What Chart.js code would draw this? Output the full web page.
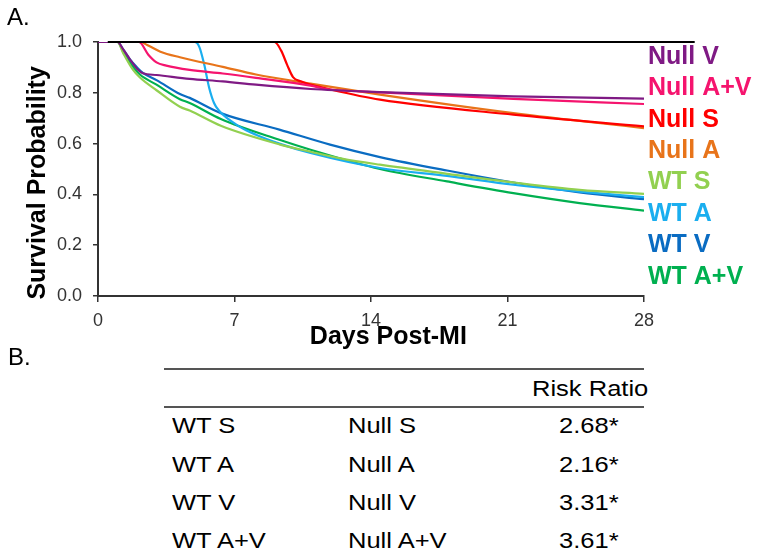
<!DOCTYPE html>
<html><head><meta charset="utf-8">
<script src="https://cdn.jsdelivr.net/npm/chart.js@4/dist/chart.umd.min.js"></script>
<style>
html,body{margin:0;padding:0;background:#fff;}
body{width:762px;height:560px;position:relative;overflow:hidden;font-family:"Liberation Sans",Arial,sans-serif;color:#000;}
#wrap{position:absolute;left:0;top:0;width:762px;height:360px;}
.t{position:absolute;white-space:nowrap;line-height:1;}
.s{transform:scaleX(1.16);transform-origin:0 0;}
.hr{position:absolute;height:2px;background:#555;}
</style></head><body>
<div id="wrap"><canvas id="c" width="762" height="360"></canvas></div>
<div class="t" style="left:7px;top:5px;font-size:24px">A.</div>
<div class="t" style="left:8px;top:345px;font-size:24px">B.</div>
<div id="table"></div>
<script>
// ---- data (Kaplan-Meier curves, [day, survival]) ----
const seriesNames = ['Null V','Null A+V','Null S','Null A','WT S','WT A','WT V','WT A+V'];
const seriesColors = ['#7F1A84','#F5146E','#FF0000','#E8741A','#92D050','#1AAEEF','#0A6CC2','#00B050'];
const nullV  = [[0,1],[1,1],[1.3,0.97],[1.65,0.93],[2,0.895],[2.3,0.877],[3,0.87],[4.7,0.855],[6.4,0.845],[8.1,0.832],[10.9,0.815],[14.46,0.803],[21.3,0.786],[28,0.777]];
const nullAV = [[0,1],[2.1,1],[2.58,0.95],[3,0.92],[3.5,0.907],[4.7,0.89],[6.4,0.876],[8.1,0.859],[10.9,0.828],[11.7,0.815],[14.46,0.802],[21.3,0.776],[28,0.756]];
const nullS  = [[0,1],[9.05,1],[9.4,0.965],[9.7,0.91],[10.0,0.862],[10.4,0.845],[10.9,0.832],[11.9,0.813],[14.46,0.773],[21.3,0.714],[28,0.668]];
const nullA  = [[0,1],[2.15,1],[2.6,0.985],[3.2,0.962],[4.2,0.94],[6.4,0.902],[8.1,0.872],[10.9,0.836],[14.46,0.793],[21.3,0.72],[28,0.661]];
const wtS    = [[0,1],[1,1],[1.3,0.955],[1.8,0.89],[2.15,0.86],[3,0.81],[4.2,0.745],[4.7,0.73],[6.3,0.67],[9.3,0.597],[10.9,0.568],[12.5,0.541],[14.46,0.517],[17.9,0.481],[21.3,0.447],[24.7,0.418],[28,0.402]];
const wtA    = [[0,1],[4.95,1],[5.2,0.98],[5.45,0.91],[5.7,0.82],[5.95,0.76],[6.2,0.73],[7.3,0.665],[8.1,0.635],[9.3,0.6],[10.9,0.563],[14.46,0.504],[17.9,0.473],[21.3,0.438],[24.7,0.411],[28,0.389]];
const wtV    = [[0,1],[1,1],[1.3,0.97],[1.65,0.93],[2,0.9],[2.3,0.878],[3,0.85],[4.2,0.795],[4.7,0.78],[6.3,0.72],[9.3,0.655],[11.9,0.596],[14.46,0.547],[17.9,0.494],[21.3,0.447],[24.7,0.408],[28,0.381]];
const wtAV   = [[0,1],[1,1],[1.3,0.96],[1.65,0.918],[2.15,0.872],[3,0.832],[4.2,0.775],[4.7,0.76],[6.3,0.697],[9.3,0.615],[10.9,0.576],[14.46,0.5],[17.9,0.451],[21.3,0.405],[24.7,0.366],[28,0.336]];
const seriesData = [nullV, nullAV, nullS, nullA, wtS, wtA, wtV, wtAV];
const topLine = [[0.5,1],[30.6,1]];
const xTicks = [0,7,14,21,28];
const yTicks = [0,0.2,0.4,0.6,0.8,1.0];

const tableLeft  = ['WT S','WT A','WT V','WT A+V'];
const tableRight = ['Null S','Null A','Null V','Null A+V'];
const riskRatio  = ['2.68*','2.16*','3.31*','3.61*'];
const tableHeader = 'Risk Ratio';

// ---- table (part B) ----
(function(){
  const t = document.getElementById('table');
  let h = '';
  h += '<div class="hr" style="left:164px;top:368px;width:480px"></div>';
  h += '<div class="hr" style="left:164px;top:406px;width:480px"></div>';
  h += '<div class="t s" style="left:532px;top:378px;font-size:22px">'+tableHeader+'</div>';
  const base = [434,472.5,511,549];
  for (let i=0;i<tableLeft.length;i++){
    const top = base[i]-18.6;
    h += '<div class="t s" style="left:172px;top:'+top+'px;font-size:22px">'+tableLeft[i]+'</div>';
    h += '<div class="t s" style="left:348px;top:'+top+'px;font-size:22px">'+tableRight[i]+'</div>';
    h += '<div class="t s" style="left:559px;top:'+top+'px;font-size:22px">'+riskRatio[i]+'</div>';
  }
  t.innerHTML = h;
})();

// ---- chart (part A) ----
const FONT = '"Liberation Sans", Arial, sans-serif';
const toPts = arr => arr.map(p => ({x:p[0], y:p[1]}));
const datasets = [{
  label:'', data: toPts(topLine), borderColor:'#000', borderWidth:2, pointRadius:0, clip:false, order:0, tension:0
}];
seriesData.forEach((s,i)=>datasets.push({
  label: seriesNames[i], data: toPts(s), borderColor: seriesColors[i], borderWidth:2.2,
  pointRadius:0, cubicInterpolationMode:'monotone', fill:false, order:1
}));

const labelPlugin = {
  id:'seriesLabels',
  afterDraw(chart){
    const ctx = chart.ctx, a = chart.chartArea;
    ctx.save();
    ctx.font = 'bold 25px ' + FONT;
    ctx.textBaseline = 'middle'; ctx.textAlign = 'left';
    seriesNames.forEach((n,i)=>{
      ctx.fillStyle = seriesColors[i];
      ctx.fillText(n, a.right + 4, a.top + 15 + i*31.4);
    });
    ctx.restore();
  }
};

new Chart(document.getElementById('c'), {
  type:'line',
  data:{ datasets },
  plugins:[labelPlugin],
  options:{
    responsive:false, animation:false, devicePixelRatio:1,
    layout:{ padding:{ left:0, top:42, right:118, bottom:4 } },
    plugins:{ legend:{display:false}, tooltip:{enabled:false} },
    scales:{
      x:{
        type:'linear', min:0, max:28,
        afterBuildTicks: s => { s.ticks = xTicks.map(v=>({value:v})); },
        afterFit: s => { s.height = 60; },
        ticks:{ font:{size:18, family:FONT}, color:'#333', padding:8, maxRotation:0 },
        grid:{ drawOnChartArea:false, drawTicks:true, tickLength:6, color:'#333', lineWidth:1.5 },
        border:{ display:true, color:'#333', width:2 },
        title:{ display:true, text:'     Days Post-MI', font:{size:25, weight:'bold', family:FONT}, color:'#000', padding:{top:0,bottom:4} }
      },
      y:{
        type:'linear', min:0, max:1,
        afterBuildTicks: s => { s.ticks = yTicks.map(v=>({value:v})); },
        afterFit: s => { s.width = 98; },
        ticks:{ font:{size:18, family:FONT}, color:'#333', padding:11, callback: v => Number(v).toFixed(1) },
        grid:{ drawOnChartArea:false, drawTicks:true, tickLength:5, color:'#333', lineWidth:1.5 },
        border:{ display:true, color:'#333', width:2 },
        title:{ display:true, text:'Survival Probability    ', font:{size:25, weight:'bold', family:FONT}, color:'#000', padding:{top:23,bottom:0} }
      }
    }
  }
});
</script>
</body></html>
